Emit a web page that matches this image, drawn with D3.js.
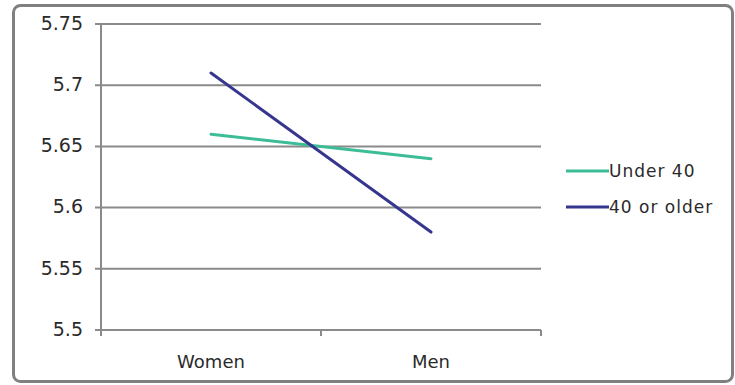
<!DOCTYPE html>
<html>
<head>
<meta charset="utf-8">
<script src="https://cdn.jsdelivr.net/npm/d3@7"></script>
<style>
  html, body { margin: 0; padding: 0; background: #fff; }
  svg text { font-family: "DejaVu Sans", Verdana, sans-serif; fill: #2a2a2a; }
</style>
</head>
<body>
<svg id="chart" width="735" height="385"></svg>
<script>
// Mean ratings by gender, split by age group
const categories = ["Women", "Men"];
const under40 = [5.66, 5.64];
const fortyPlus = [5.71, 5.58];
const seriesNames = ["Under 40", "40 or older"];
const yTicks = [5.5, 5.55, 5.6, 5.65, 5.7, 5.75];
const yTickLabels = ["5.5", "5.55", "5.6", "5.65", "5.7", "5.75"];

const series = [
  { name: seriesNames[0], values: under40, color: "#3dbd97", width: 3 },
  { name: seriesNames[1], values: fortyPlus, color: "#36368f", width: 3 }
];

const svg = d3.select("#chart");

// chart frame
svg.append("rect")
  .attr("x", 13.5).attr("y", 5.5)
  .attr("width", 719).attr("height", 376)
  .attr("rx", 7).attr("ry", 7)
  .attr("fill", "#fff")
  .attr("stroke", "#808080")
  .attr("stroke-width", 3);

const plot = { left: 101, right: 541, top: 24, bottom: 330 };

const x = d3.scaleBand()
  .domain(categories)
  .range([plot.left, plot.right]);

const y = d3.scaleLinear()
  .domain([5.5, 5.75])
  .range([plot.bottom, plot.top]);

// horizontal gridlines
svg.append("g")
  .selectAll("line")
  .data(yTicks)
  .join("line")
  .attr("x1", plot.left - 6).attr("x2", plot.right)
  .attr("y1", d => y(d)).attr("y2", d => y(d))
  .attr("stroke", "#8a8a8a")
  .attr("stroke-width", 2);

// y axis
svg.append("line")
  .attr("x1", plot.left).attr("x2", plot.left)
  .attr("y1", plot.top).attr("y2", plot.bottom + 6)
  .attr("stroke", "#8a8a8a").attr("stroke-width", 2);

svg.append("g")
  .selectAll("text")
  .data(yTicks)
  .join("text")
  .attr("x", plot.left - 18)
  .attr("y", d => y(d))
  .attr("dy", "0.3em")
  .attr("text-anchor", "end")
  .attr("font-size", 19)
  .text((d, i) => yTickLabels[i]);

// x axis tick marks at category boundaries
const bounds = [plot.left, ...categories.slice(1).map(c => x(c)), plot.right];
svg.append("g")
  .selectAll("line")
  .data(bounds)
  .join("line")
  .attr("x1", d => d).attr("x2", d => d)
  .attr("y1", plot.bottom).attr("y2", plot.bottom + 6)
  .attr("stroke", "#8a8a8a").attr("stroke-width", 2);

svg.append("g")
  .selectAll("text")
  .data(categories)
  .join("text")
  .attr("x", d => x(d) + x.bandwidth() / 2)
  .attr("y", 368)
  .attr("text-anchor", "middle")
  .attr("font-size", 18)
  .text(d => d);

// series lines
const line = d3.line()
  .x((d, i) => x(categories[i]) + x.bandwidth() / 2)
  .y(d => y(d));

svg.append("g")
  .selectAll("path")
  .data(series)
  .join("path")
  .attr("d", d => line(d.values))
  .attr("fill", "none")
  .attr("stroke", d => d.color)
  .attr("stroke-width", d => d.width)
  .attr("stroke-linecap", "round");

// legend
const legend = svg.append("g")
  .selectAll("g")
  .data(series)
  .join("g")
  .attr("transform", (d, i) => `translate(566, ${171 + i * 36})`);

legend.append("line")
  .attr("x1", 0).attr("x2", 43)
  .attr("stroke", d => d.color)
  .attr("stroke-width", d => d.width);

legend.append("text")
  .attr("x", 43)
  .attr("y", 6)
  .attr("font-size", 17)
  .attr("letter-spacing", 1)
  .text(d => d.name);
</script>
</body>
</html>
